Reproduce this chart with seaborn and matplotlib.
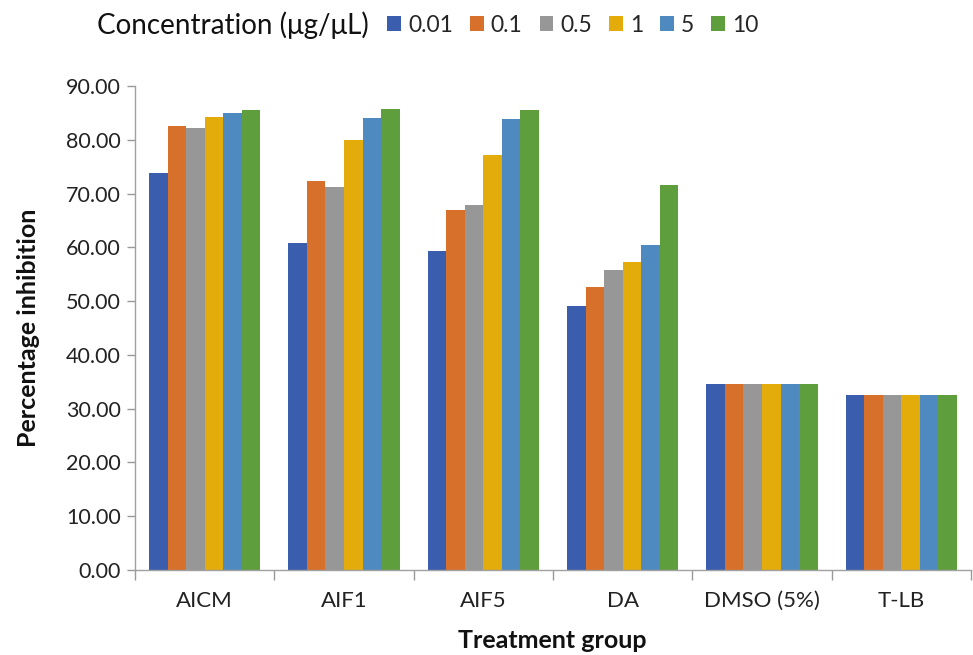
import matplotlib
matplotlib.use("Agg")
import matplotlib.pyplot as plt
import seaborn as sns
import pandas as pd
import numpy as np
from matplotlib.patches import Patch

groups = ["AICM", "AIF1", "AIF5", "DA", "DMSO (5%)", "T-LB"]
concentrations = ["0.01", "0.1", "0.5", "1", "5", "10"]
v_001 = [73.8, 60.8, 59.4, 49.1, 34.5, 32.5]
v_01 = [82.5, 72.4, 67.0, 52.6, 34.5, 32.5]
v_05 = [82.2, 71.3, 67.9, 55.8, 34.5, 32.5]
v_1 = [84.3, 79.9, 77.1, 57.2, 34.5, 32.5]
v_5 = [84.9, 84.1, 83.9, 60.5, 34.5, 32.5]
v_10 = [85.5, 85.7, 85.5, 71.5, 34.5, 32.5]
colors = ["#3A5EAD", "#D6702B", "#979797", "#E3AC0A", "#4E89C0", "#5F9E3C"]

series = [v_001, v_01, v_05, v_1, v_5, v_10]
rows = []
for c, vals in zip(concentrations, series):
    for g, v in zip(groups, vals):
        rows.append({"group": g, "conc": c, "value": v})
df = pd.DataFrame(rows)

sns.set_theme(style="white")
plt.rcParams["font.family"] = ["Lato", "DejaVu Sans"]

fig = plt.figure(figsize=(9.73, 6.55), dpi=100)
ax = fig.add_axes([135/973, 1-570/655, (971-135)/973, (570-86)/655])
sns.barplot(data=df, x="group", y="value", hue="conc", order=groups,
            hue_order=concentrations, palette=colors, width=0.8, gap=0,
            saturation=1, ax=ax, legend=False, edgecolor="none")

ax.set_ylim(0, 90)
ax.set_xlim(-0.5, len(groups) - 0.5)
ax.set_yticks(np.arange(0, 91, 10))
ax.set_yticklabels([f"{t:.2f}" for t in np.arange(0, 91, 10)], fontsize=15.5, color="#222222")
ax.set_xticks(range(len(groups)))
ax.set_xticklabels(groups, fontsize=16, color="#222222")
ax.set_xticks(np.arange(-0.5, len(groups), 1), minor=True)
ax.tick_params(axis="x", which="major", length=0, pad=15)
ax.tick_params(axis="x", which="minor", length=7, color="#999999", width=1, direction="out", bottom=True)
ax.tick_params(axis="y", length=6, color="#999999", width=1, direction="out", left=True, pad=4)
for s in ["top", "right"]:
    ax.spines[s].set_visible(False)
for s in ["left", "bottom"]:
    ax.spines[s].set_visible(True)
    ax.spines[s].set_color("#a0a0a0")
    ax.spines[s].set_linewidth(1)

ax.set_xlabel("")
ax.set_ylabel("Percentage inhibition", fontsize=18, fontweight="bold", labelpad=19, color="#111111")
fig.text(552/973, 1-640/655, "Treatment group", fontsize=18, fontweight="bold",
         ha="center", va="center", color="#111111")

fig.text(97/973, 1-25/655, "Concentration (μg/μL)", fontsize=20, va="center", ha="left", color="#111111")
handles = [Patch(facecolor=c, edgecolor="none") for c in colors]
fig.legend(handles, concentrations, loc="center left", bbox_to_anchor=(376/973, 1-25/655),
           ncol=6, frameon=False, fontsize=16.5, handlelength=0.6, handleheight=0.6,
           handletextpad=0.3, columnspacing=0.75, borderpad=0)

fig.savefig("out.png", dpi=100)
